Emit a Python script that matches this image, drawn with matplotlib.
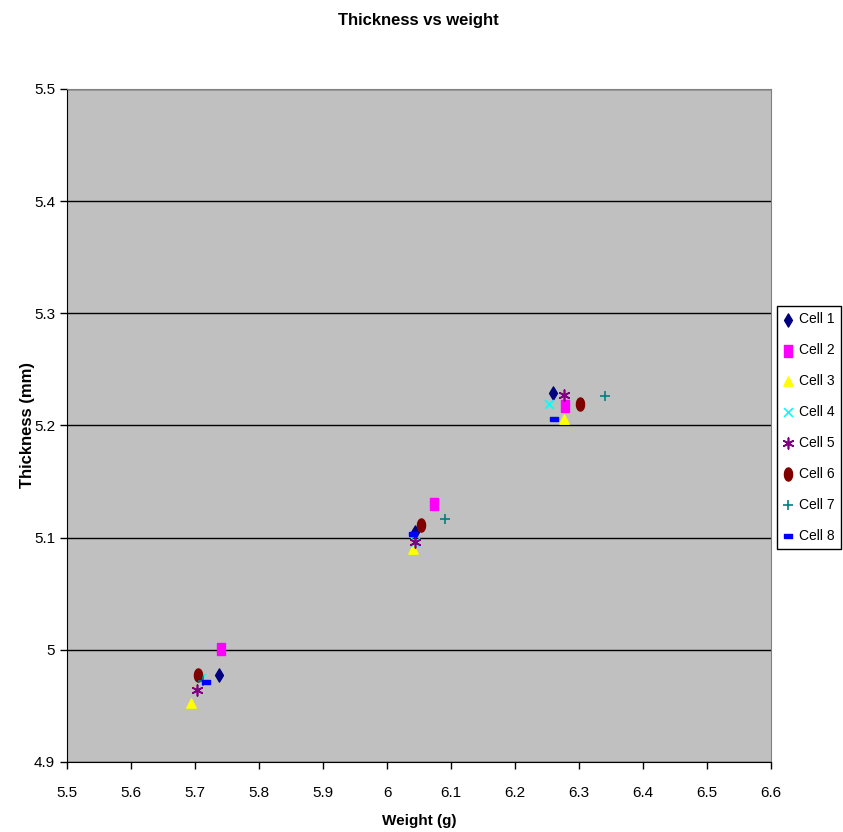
import math
import matplotlib.pyplot as plt

plt.rcParams['font.family'] = ['Liberation Sans', 'DejaVu Sans']

# Weight (g) and thickness (mm) per cell, three measurements each
cells = ['Cell 1', 'Cell 2', 'Cell 3', 'Cell 4', 'Cell 5', 'Cell 6', 'Cell 7', 'Cell 8']
weight = {
    'Cell 1': [5.738, 6.043, 6.259],
    'Cell 2': [5.740, 6.073, 6.278],
    'Cell 3': [5.694, 6.041, 6.276],
    'Cell 4': [5.710, 6.044, 6.253],
    'Cell 5': [5.703, 6.044, 6.277],
    'Cell 6': [5.705, 6.053, 6.302],
    'Cell 7': [5.713, 6.091, 6.341],
    'Cell 8': [5.717, 6.041, 6.261],
}
thickness = {
    'Cell 1': [4.978, 5.105, 5.229],
    'Cell 2': [5.001, 5.130, 5.217],
    'Cell 3': [4.953, 5.090, 5.206],
    'Cell 4': [4.975, 5.096, 5.219],
    'Cell 5': [4.964, 5.096, 5.227],
    'Cell 6': [4.978, 5.111, 5.219],
    'Cell 7': [4.972, 5.117, 5.226],
    'Cell 8': [4.971, 5.103, 5.206],
}
x_ticks = [5.5, 5.6, 5.7, 5.8, 5.9, 6.0, 6.1, 6.2, 6.3, 6.4, 6.5, 6.6]
x_tick_labels = ['5.5', '5.6', '5.7', '5.8', '5.9', '6', '6.1', '6.2', '6.3', '6.4', '6.5', '6.6']
y_ticks = [4.9, 5.0, 5.1, 5.2, 5.3, 5.4, 5.5]
y_tick_labels = ['4.9', '5', '5.1', '5.2', '5.3', '5.4', '5.5']

# Excel-like marker shapes
tall_rect = [(-0.6, -1), (0.6, -1), (0.6, 1), (-0.6, 1), (-0.6, -1)]
flat_rect = [(-1, -0.55), (1, -0.55), (1, 0.55), (-1, 0.55), (-1, -0.55)]
tall_oval = [(0.62 * math.cos(t / 20 * 2 * math.pi), math.sin(t / 20 * 2 * math.pi)) for t in range(21)]
styles = {
    'Cell 1': dict(marker='d', color='#000080', s=45),
    'Cell 2': dict(marker=tall_rect, color='#FF00FF', s=80),
    'Cell 3': dict(marker='^', color='#FFFF00', s=45),
    'Cell 4': dict(marker='x', color='#00FFFF', s=40, linewidths=1.2),
    'Cell 5': dict(marker=(6, 2, 0), color='#800080', s=60, linewidths=1.2),
    'Cell 6': dict(marker=tall_oval, color='#800000', s=90),
    'Cell 7': dict(marker='+', color='#008080', s=60, linewidths=1.2),
    'Cell 8': dict(marker=flat_rect, color='#0000FF', s=30),
}

fig = plt.figure(figsize=(8.43, 8.32), dpi=100)
ax = fig.add_axes([67 / 843, 70 / 832, 704 / 843, 673 / 832])
ax.set_facecolor('#C0C0C0')

for c in cells:
    ax.scatter(weight[c], thickness[c], label=c, zorder=3, **styles[c])

ax.set_xlim(5.5, 6.6)
ax.set_ylim(4.9, 5.5)
ax.set_xticks(x_ticks)
ax.set_xticklabels(x_tick_labels)
ax.set_yticks(y_ticks)
ax.set_yticklabels(y_tick_labels)
ax.tick_params(direction='out', length=5, width=1, labelsize=11, colors='black')
ax.tick_params(axis='x', pad=12)
ax.grid(axis='y', color='black', linewidth=1)
ax.set_axisbelow(True)

for side in ['top', 'right']:
    ax.spines[side].set_color('#808080')
for side in ['left', 'bottom']:
    ax.spines[side].set_color('black')

fig.text(0.5 * (67 + 771) / 843 * 0.998, 1 - 20 / 832, 'Thickness vs weight',
         ha='center', va='center', fontsize=12, fontweight='bold')
ax.set_xlabel('Weight (g)', fontsize=11, fontweight='bold')
ax.xaxis.set_label_coords(0.5, -0.078)
ax.set_ylabel('Thickness (mm)', fontsize=12, fontweight='bold')
ax.yaxis.set_label_coords(-0.045, 0.5)

leg = fig.legend(loc='upper left', bbox_to_anchor=(777 / 843, 1 - 306 / 832),
                 borderaxespad=0, fontsize=10,
                 frameon=True, fancybox=False, edgecolor='black', framealpha=1,
                 handletextpad=0.4, handlelength=0.7, labelspacing=1.22,
                 borderpad=0.45, scatterpoints=1)
leg.get_frame().set_linewidth(1)

fig.savefig('out.png', dpi=100)
